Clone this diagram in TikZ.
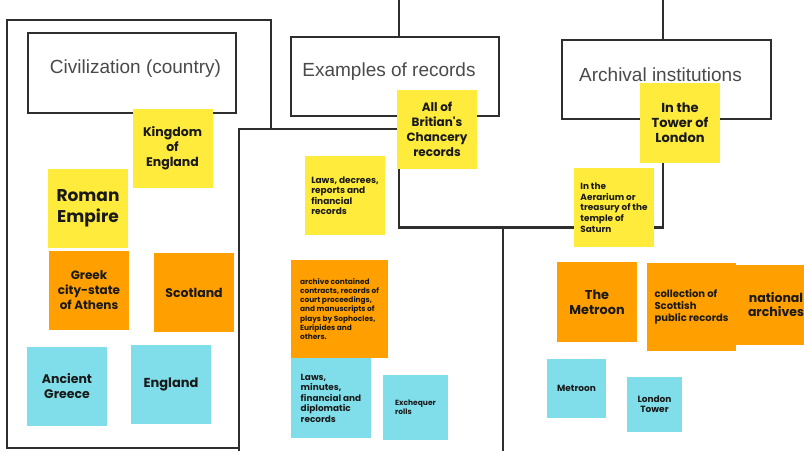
\documentclass[tikz,border=0pt]{standalone}
\usepackage{fontspec}
\setmainfont{Liberation Sans}
\newfontfamily\notefont{Poppins}
\definecolor{noteyellow}{HTML}{FFEB3B}
\definecolor{noteorange}{HTML}{FF9F00}
\definecolor{noteblue}{HTML}{80DEEA}
\definecolor{framegray}{HTML}{2E2E2E}
\definecolor{headgray}{HTML}{4A4A4A}
\newcommand{\nsize}[2]{\fontsize{#1}{#2}\selectfont}
\begin{document}
\begin{tikzpicture}
[x=1pt,y=-1pt,
frame/.style={line width=2.7pt, draw=framegray},
head/.style={draw=framegray, line width=2.7pt, fill=white, inner sep=0pt},
headtext/.style={inner sep=0pt, text=headgray, font=\nsize{19}{22}},
note/.style={inner sep=0pt, minimum width=80, minimum height=79, align=center, text=black!90, font=\notefont\bfseries\nsize{12.5}{15}},
yellownote/.style={note, fill=noteyellow},
orangenote/.style={note, fill=noteorange},
bluenote/.style={note, fill=noteblue}]
\useasboundingbox (0,0) rectangle (804,451);
% frames
\draw[frame] (271,129) -- (271,20) -- (7,20) -- (7,448) -- (239,448);
\draw[frame] (239,451) -- (239,129) -- (399,129);
\coordinate (split3) at (503,226);
\draw[frame] (split3) -- (503,451);
% heading boxes
\node[head, minimum width=208, minimum height=80, label={[headtext, xshift=3.5pt, yshift=4.5pt]center:Civilization (country)}] (civ) at (132,73) {};
\node[head, minimum width=208, minimum height=79, label={[headtext, xshift=-6pt, yshift=4.5pt]center:Examples of records}] (rec) at (395,76.5) {};
\node[head, minimum width=209, minimum height=79, label={[headtext, xshift=-6pt, yshift=5pt]center:Archival institutions}] (arch) at (666.5,79.5) {};
\coordinate (top2) at (399,0);
\coordinate (top3) at (663,0);
\draw[frame] (top2) -- ([xshift=4]rec.north);
\draw[frame] (top3) -- ([xshift=-3.5]arch.north);
\draw[frame] ([xshift=4]rec.south) -- ++(0,110) -| ([xshift=-3.5]arch.south);
% civilization
\node[yellownote] (king) at (172.5,148.5) {Kingdom\\of\\England};
\node[yellownote, font=\notefont\bfseries\nsize{17}{21}] (roman) at (88,208.5) {Roman\\Empire};
\node[orangenote, font=\notefont\bfseries\nsize{12}{15}] (athens) at (89,290.5) {Greek\\city-state\\of Athens};
\node[orangenote] (scot) at (194,292.5) {Scotland};
\node[bluenote] (agreece) at (67,386.5) {Ancient\\Greece};
\node[bluenote, font=\notefont\bfseries\nsize{13}{15}] (eng) at (171,384.5) {England};
% records
\node[yellownote, font=\notefont\bfseries\nsize{12}{15}] (chancery) at (437,129.5) {All of\\Britian's\\Chancery\\records};
\node[yellownote, align=left, font=\notefont\bfseries\nsize{9}{10.5}] (lawsdec) at (345,195.5) {Laws, decrees,\\reports and\\financial\\records};
\node[orangenote, minimum width=97, minimum height=98, align=left, font=\notefont\bfseries\nsize{7.4}{9.3}] (archive) at (339.5,309) {archive contained\\contracts, records of\\court proceedings,\\and manuscripts of\\plays by Sophocles,\\Euripides and\\others.};
\node[bluenote, minimum height=80, align=left, font=\notefont\bfseries\nsize{8.9}{10.5}] (lawsmin) at (331,398) {Laws,\\minutes,\\financial and\\diplomatic\\records};
\node[bluenote, minimum width=65, minimum height=65, align=left, font=\notefont\bfseries\nsize{7.5}{9}] (exch) at (415.5,407.5) {Exchequer\\rolls};
% institutions
\node[yellownote, minimum height=80, font=\notefont\bfseries\nsize{13}{15}] (tower) at (680,123) {In the\\Tower of\\London};
\node[yellownote, align=left, font=\notefont\bfseries\nsize{8.9}{10.7}] (aerarium) at (614,207.5) {In the\\Aerarium or\\treasury of the\\temple of\\Saturn};
\node[orangenote, minimum height=80, font=\notefont\bfseries\nsize{12.8}{15}] (metroon) at (597,302) {The\\Metroon};
\node[orangenote, minimum width=89, minimum height=88, align=left, font=\notefont\bfseries\nsize{10}{12}] (scottish) at (691.5,307) {collection of\\Scottish\\public records};
\node[orangenote, minimum height=80, font=\notefont\bfseries\nsize{12.5}{14}] (national) at (776,305) {national\\archives};
\node[bluenote, minimum width=59, minimum height=59, font=\notefont\bfseries\nsize{9}{11}] (metroonb) at (576.5,388.5) {Metroon};
\node[bluenote, minimum width=55, minimum height=55, font=\notefont\bfseries\nsize{9}{10}] (ltower) at (654.5,404.5) {London\\Tower};
\end{tikzpicture}
\end{document}
